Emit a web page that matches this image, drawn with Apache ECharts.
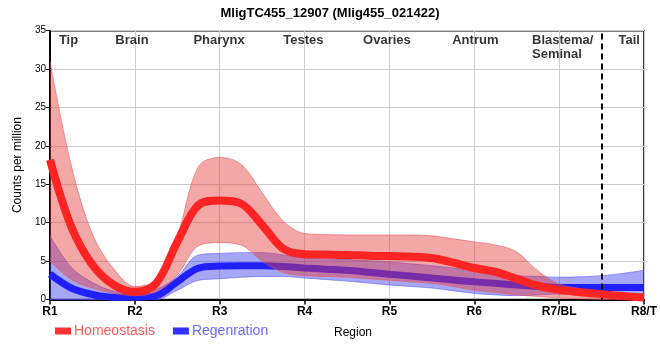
<!DOCTYPE html>
<html><head><meta charset="utf-8">
<script src="https://cdn.jsdelivr.net/npm/echarts@6/dist/echarts.min.js"></script>
<style>html,body{margin:0;padding:0;background:#fff}#c{width:660px;height:360px}</style>
</head><body><div id="c"></div>
<script>
const titleText = 'MligTC455_12907 (Mlig455_021422)';
const xPos = [1, 1.25, 1.5, 1.75, 2, 2.25, 2.5, 2.75, 3, 3.25, 3.5, 3.75, 4, 4.25, 4.5, 4.75, 5, 5.25, 5.5, 5.75, 6, 6.25, 6.5, 6.75, 7, 7.25, 7.5, 7.75, 8];
const homeoMean = [18.2, 9.5, 4.5, 1.9, 1.0, 2.1, 7.5, 12.3, 12.9, 12.5, 9.7, 6.6, 5.9, 5.85, 5.8, 5.7, 5.65, 5.6, 5.4, 4.8, 4.1, 3.6, 2.7, 1.8, 1.25, 0.95, 0.7, 0.45, 0.25];
const homeoHigh = [31, 17.5, 8.5, 4.0, 1.7, 2.6, 8.3, 17.3, 18.5, 17.6, 13.9, 10.2, 8.6, 8.45, 8.4, 8.4, 8.4, 8.4, 8.3, 7.9, 7.5, 7.1, 6.2, 3.7, 2.0, 1.4, 0.9, 0.5, 0.3];
const homeoLow = [5.0, 2.6, 1.5, 0.8, 0.5, 1.0, 3.2, 7.0, 7.4, 7.1, 5.0, 3.5, 3.1, 3.0, 2.9, 2.7, 2.5, 2.3, 2.1, 1.7, 1.2, 0.9, 0.6, 0.4, 0.2, 0.1, 0.0, -0.1, -0.2];
const regenMean = [3.3, 1.5, 0.65, 0.3, 0.3, 0.5, 2.3, 4.1, 4.35, 4.4, 4.4, 4.3, 4.1, 3.95, 3.8, 3.55, 3.3, 3.05, 2.8, 2.55, 2.3, 2.1, 1.9, 1.7, 1.55, 1.55, 1.55, 1.55, 1.55];
const regenHigh = [8.3, 4.2, 2.2, 1.1, 0.8, 1.3, 3.0, 5.8, 6.0, 6.1, 6.1, 5.8, 5.4, 5.3, 5.2, 5.05, 4.9, 4.65, 4.4, 4.1, 3.8, 3.4, 3.1, 3.0, 2.9, 2.95, 3.1, 3.4, 3.8];
const regenLow = [0, 0, 0, 0, 0, 0, 1.2, 2.5, 2.7, 2.9, 3.0, 3.0, 2.8, 2.6, 2.4, 2.15, 1.9, 1.7, 1.5, 1.15, 0.8, 0.6, 0.5, 0.6, 0.7, 0.7, 0.7, 0.7, 0.7];
const xTickLabels = ['R1', 'R2', 'R3', 'R4', 'R5', 'R6', 'R7/BL', 'R8/T'];
const regionNames = ['Tip', 'Brain', 'Pharynx', 'Testes', 'Ovaries', 'Antrum', 'Blastema/\nSeminal', 'Tail'];
const regionAt = [1.105, 1.77, 2.69, 3.75, 4.69, 5.74, 6.68, 7.7];
const boundaryAt = 7.5;
const seriesNames = ['Homeostasis', 'Regenration'];

const cats = xPos.map(String);
const diff = (hi, lo) => hi.map((v, i) => +(v - lo[i]).toFixed(3));
const SM = 0.35;

function band(name, lo, hi, fill, edge, z) {
  return [
    { name: name + '_lo', type: 'line', stack: name, stackStrategy: 'all', data: lo, smooth: SM,
      showSymbol: false, lineStyle: { width: 1, color: edge }, z: z, silent: true },
    { name: name + '_hi', type: 'line', stack: name, stackStrategy: 'all', data: diff(hi, lo), smooth: SM,
      showSymbol: false, lineStyle: { width: 1, color: edge }, areaStyle: { color: fill, opacity: 1 },
      z: z, silent: true }
  ];
}

const chart = echarts.init(document.getElementById('c'), null, { renderer: 'canvas' });
chart.setOption({
  animation: false,
  title: { text: titleText, left: 'center', top: 2,
    textStyle: { fontFamily: 'Liberation Sans, Arial', fontWeight: 'bold', fontSize: 13, color: '#000' } },
  grid: { left: 50, right: 10, top: 30.7, bottom: 60.5, show: true, borderColor: '#000', borderWidth: 1.5 },
  legend: {
    left: 50, top: 319, icon: 'rect', itemWidth: 16, itemHeight: 7, itemGap: 18,
    textStyle: { fontFamily: 'Liberation Sans, Arial', fontSize: 14, padding: [0, 0, 0, -2] },
    data: [
      { name: seriesNames[0], itemStyle: { color: '#ff3333' }, textStyle: { color: '#ff5a5a' } },
      { name: seriesNames[1], itemStyle: { color: '#3333ff' }, textStyle: { color: '#6a6aff' } }
    ]
  },
  xAxis: [{
    type: 'category', data: cats, boundaryGap: false,
    name: 'Region', nameLocation: 'middle', nameGap: 27,
    nameTextStyle: { fontFamily: 'Liberation Sans, Arial', fontSize: 12, color: '#000', padding: [0, 0, 0, 12] },
    axisLine: { lineStyle: { color: '#000', width: 2 } },
    axisTick: { interval: 3, length: 5, lineStyle: { color: '#000', width: 1.5 } },
    axisLabel: { interval: 3, formatter: v => xTickLabels[Math.round(+v) - 1] || '', margin: 6,
      fontFamily: 'Liberation Sans, Arial', fontWeight: 'bold', fontSize: 12, color: '#000' },
    splitLine: { show: true, interval: 3, lineStyle: { color: '#cccccc', width: 1 } }
  }, {
    type: 'value', min: 1, max: 8, show: false, position: 'top'
  }],
  yAxis: {
    type: 'value', min: 0, max: 35, interval: 5,
    name: 'Counts per million', nameLocation: 'middle', nameGap: 20,
    nameTextStyle: { fontFamily: 'Liberation Sans, Arial', fontSize: 12, color: '#000' },
    axisLine: { show: true, lineStyle: { color: '#000', width: 2 } },
    axisTick: { show: true, length: 4, lineStyle: { color: '#000' } },
    axisLabel: { fontFamily: 'Liberation Sans, Arial', fontSize: 10, color: '#000', margin: 4 },
    splitLine: { show: true, lineStyle: { color: '#cccccc', width: 1 } }
  },
  series: [
    ...band('regen', regenLow, regenHigh, 'rgba(60,60,240,0.45)', 'rgba(90,90,240,0.6)', 2),
    { name: seriesNames[1], type: 'line', data: regenMean, smooth: SM, showSymbol: false,
      lineStyle: { width: 7, color: '#2020ff' }, itemStyle: { color: '#3333ff' }, z: 3 },
    ...band('homeo', homeoLow, homeoHigh, 'rgba(228,60,60,0.45)', 'rgba(230,90,90,0.6)', 4),
    { name: seriesNames[0], type: 'line', data: homeoMean, smooth: SM, showSymbol: false,
      lineStyle: { width: 8, color: '#ff2424' }, itemStyle: { color: '#ff3333' }, z: 5,
      markLine: { silent: true, symbol: 'none', label: { show: false },
        lineStyle: { color: '#000', type: [6, 4], width: 2 }, data: [{ xAxis: String(boundaryAt) }] } },
    { name: 'regions', type: 'scatter', xAxisIndex: 1, symbolSize: 0, silent: true, z: 6,
      data: regionAt.map((x, i) => ({ value: [x, 34.6], label: { formatter: regionNames[i] } })),
      label: { show: true, position: 'inside', align: 'left', verticalAlign: 'top', lineHeight: 14,
        fontFamily: 'Liberation Sans, Arial', fontWeight: 'bold', fontSize: 13, color: '#000' } }
  ]
});
</script></body></html>
